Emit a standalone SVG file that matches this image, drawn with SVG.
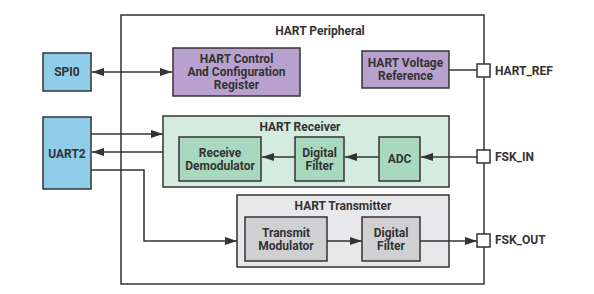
<svg xmlns="http://www.w3.org/2000/svg" width="594" height="294" viewBox="0 0 594 294">
<style>
.b{stroke:#333;stroke-width:1.5}
.t{font-family:Roboto,"Liberation Sans",sans-serif;font-weight:bold;font-size:12px;fill:#333;text-anchor:middle;dominant-baseline:central}
.l{text-anchor:start}
.blue{fill:#8fcdeb}.pur{fill:#b9a1cf}.gbg{fill:#d4ecdf}.gin{fill:#a8d9bf}.sbg{fill:#e8e8ea}.sin{fill:#d0d0d2}
.c{fill:none;stroke:#333;stroke-width:1.5}
</style>
<defs>
<marker id="ah" viewBox="0 0 12 8" refX="12" refY="4" markerWidth="12" markerHeight="8" markerUnits="userSpaceOnUse" orient="auto-start-reverse"><path d="M0,0L12,4L0,8z" fill="#333"/></marker>
</defs>
<rect width="594" height="294" fill="#fff"/>
<g id="peripheral">
<rect class="b" x="121" y="15" width="363" height="269" fill="#fff"/>
<text class="t" x="320" y="31">HART Peripheral</text>
</g>
<g id="receiver">
<rect class="b gbg" x="163" y="116" width="286" height="71"/>
<text class="t" x="300" y="127">HART Receiver</text>
</g>
<g id="transmitter">
<rect class="b sbg" x="237" y="195" width="212" height="72"/>
<text class="t" x="343" y="206">HART Transmitter</text>
</g>
<g id="spi0">
<rect class="b blue" x="43" y="53" width="48" height="38"/>
<text class="t" x="67" y="72">SPI0</text>
</g>
<g id="uart2">
<rect class="b blue" x="43" y="117" width="48" height="72"/>
<text class="t" x="67" y="154">UART2</text>
</g>
<g id="control">
<rect class="b pur" x="173" y="48" width="127" height="48"/>
<text class="t" x="236.5" y="59">HART Control</text>
<text class="t" x="236.5" y="72">And Configuration</text>
<text class="t" x="236.5" y="85">Register</text>
</g>
<g id="vref">
<rect class="b pur" x="362" y="51" width="87" height="37"/>
<text class="t" x="405.5" y="63">HART Voltage</text>
<text class="t" x="405.5" y="76">Reference</text>
</g>
<g id="demod">
<rect class="b gin" x="179" y="137" width="82" height="44"/>
<text class="t" x="220" y="152.5">Receive</text>
<text class="t" x="220" y="165.5">Demodulator</text>
</g>
<g id="rxfilter">
<rect class="b gin" x="295" y="137" width="49" height="44"/>
<text class="t" x="319.5" y="152.5">Digital</text>
<text class="t" x="319.5" y="165.5">Filter</text>
</g>
<g id="adc">
<rect class="b gin" x="379" y="137" width="41" height="44"/>
<text class="t" x="399.5" y="159">ADC</text>
</g>
<g id="txmod">
<rect class="b sin" x="245" y="217" width="82" height="44"/>
<text class="t" x="286" y="232.5">Transmit</text>
<text class="t" x="286" y="245.5">Modulator</text>
</g>
<g id="txfilter">
<rect class="b sin" x="362" y="217" width="58" height="44"/>
<text class="t" x="391" y="232.5">Digital</text>
<text class="t" x="391" y="245.5">Filter</text>
</g>
<g id="connectors">
<path class="c" d="M92,72H172" marker-start="url(#ah)" marker-end="url(#ah)"/>
<path class="c" d="M449,70H477"/>
<path class="c" d="M91,134H163" marker-end="url(#ah)"/>
<path class="c" d="M163,152H92" marker-end="url(#ah)"/>
<path class="c" d="M91,170H144V241H237" marker-end="url(#ah)"/>
<path class="c" d="M477,157H421" marker-end="url(#ah)"/>
<path class="c" d="M379,157H345" marker-end="url(#ah)"/>
<path class="c" d="M295,157H262" marker-end="url(#ah)"/>
<path class="c" d="M327,241H362" marker-end="url(#ah)"/>
<path class="c" d="M420,241H477" marker-end="url(#ah)"/>
</g>
<g id="pins">
<rect class="b" x="477" y="64" width="13" height="13" fill="#fff"/>
<text class="t l" x="495" y="71">HART_REF</text>
<rect class="b" x="477" y="150" width="13" height="13" fill="#fff"/>
<text class="t l" x="495" y="157">FSK_IN</text>
<rect class="b" x="477" y="234" width="13" height="13" fill="#fff"/>
<text class="t l" x="495" y="240">FSK_OUT</text>
</g>
</svg>
